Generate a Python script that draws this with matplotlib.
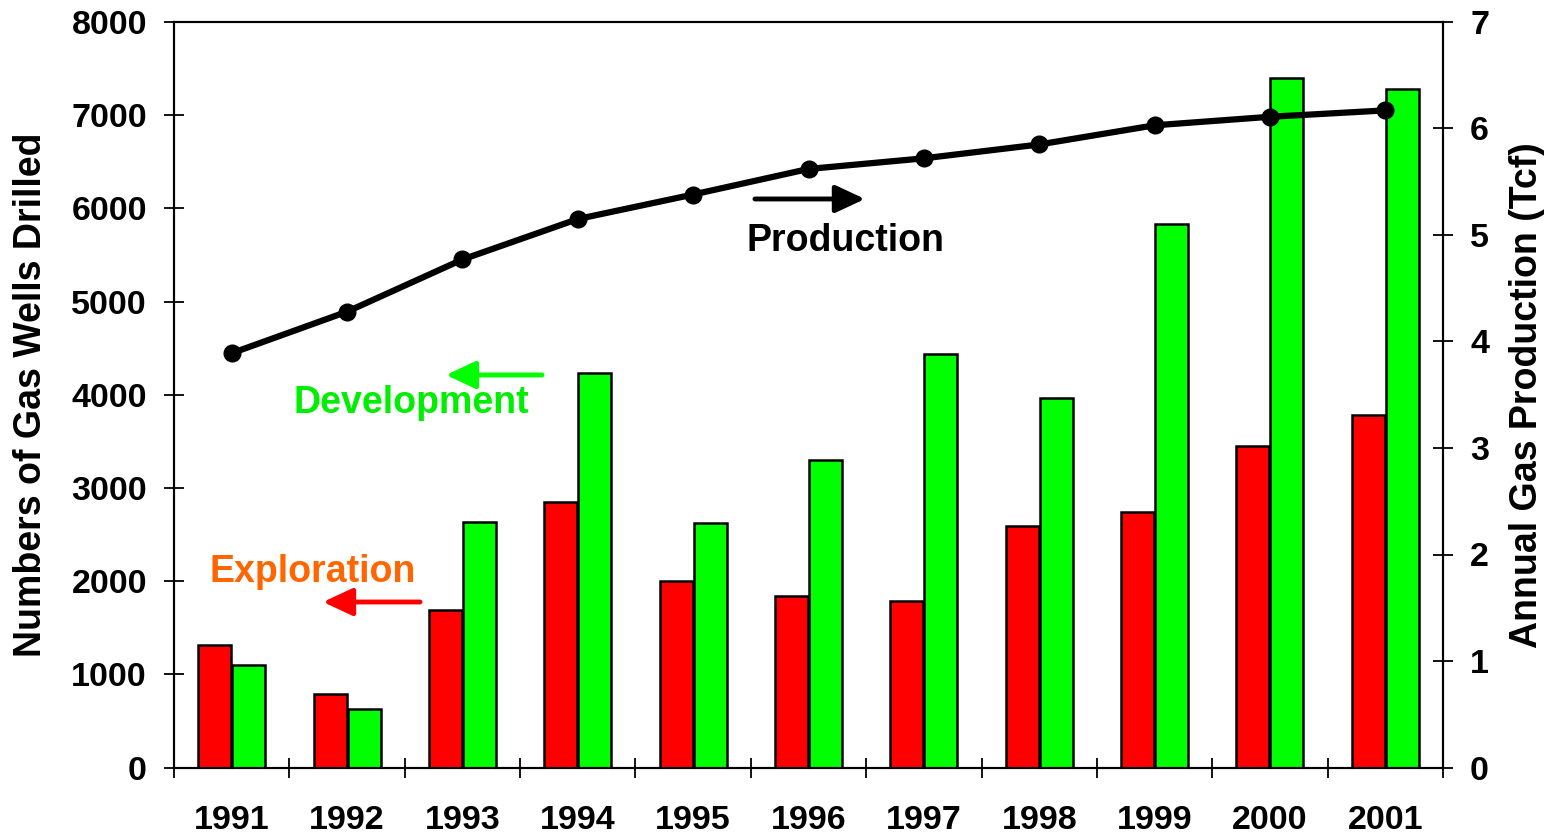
import matplotlib
matplotlib.use("Agg")
import matplotlib.pyplot as plt
import numpy as np

years = ["1991", "1992", "1993", "1994", "1995", "1996", "1997", "1998", "1999", "2000", "2001"]
exploration = [1311, 792, 1690, 2852, 2001, 1844, 1786, 2588, 2741, 3446, 3785]
development = [1100, 624, 2637, 4233, 2627, 3296, 4437, 3961, 5832, 7395, 7280]
production = [3.89, 4.28, 4.77, 5.15, 5.38, 5.62, 5.72, 5.85, 6.03, 6.11, 6.17]

plt.rcParams['font.family'] = ['Liberation Sans', 'DejaVu Sans']
plt.rcParams['font.weight'] = 'bold'

fig = plt.figure(figsize=(15.54, 8.35), dpi=100)
ax = fig.add_axes([174/1554, 1 - 767.5/835, 1269/1554, 745.5/835])
ax2 = ax.twinx()

x = np.arange(len(years))
w = 0.286
off = 0.147
ax.bar(x - off, exploration, width=w, color='#FF0000', edgecolor='black', linewidth=1.8, zorder=2)
ax.bar(x + off, development, width=w, color='#00FF00', edgecolor='black', linewidth=1.8, zorder=2)

ax2.plot(x, production, color='black', lw=4.5, marker='o', markersize=12, zorder=3)

ax.set_xlim(-0.5, len(years) - 0.5)
ax.set_ylim(0, 8000)
ax2.set_ylim(0, 7)
ax.set_yticks(np.arange(0, 8001, 1000))
ax2.set_yticks(np.arange(0, 8, 1))

ax.set_xticks(np.arange(-0.5, len(years), 1.0))
ax.set_xticklabels([])
ax.set_xticks(x, minor=True)
ax.set_xticklabels(years, minor=True)
ax.tick_params(axis='x', which='major', direction='inout', length=15, width=1.3)
ax.tick_params(axis='x', which='minor', length=0, pad=27, labelsize=24.5)
ax.tick_params(axis='y', direction='inout', length=15, width=1.3, pad=12, labelsize=24.5)
ax2.tick_params(axis='y', direction='inout', length=15, width=1.3, pad=12, labelsize=24.5)

for a in (ax, ax2):
    for s in a.spines.values():
        s.set_linewidth(1.5)

ax.set_ylabel("Numbers of Gas Wells Drilled", fontsize=27, fontweight='bold', labelpad=16)
ax2.set_ylabel("Annual Gas Production (Tcf)", fontsize=27, fontweight='bold', labelpad=14)

for lab in ax.get_xticklabels(minor=True) + ax.get_yticklabels() + ax2.get_yticklabels():
    lab.set_fontweight('bold')

# annotations
ax.text(0.1095, 0.2622, "Exploration", transform=ax.transAxes, color='#FF6600',
        fontsize=27, fontweight='bold', ha='center', va='center')
ax.text(0.1868, 0.4889, "Development", transform=ax.transAxes, color='#00EE00',
        fontsize=27, fontweight='bold', ha='center', va='center')
ax.text(0.5288, 0.7062, "Production", transform=ax.transAxes, color='black',
        fontsize=27, fontweight='bold', ha='center', va='center')

arrow_style = "-|>,head_length=0.6,head_width=0.28"
ax.annotate("", xy=(0.1174, 0.2220), xytext=(0.1939, 0.2220), xycoords='axes fraction',
            textcoords='axes fraction',
            arrowprops=dict(arrowstyle=arrow_style, color='#FF0000', lw=3.5, mutation_scale=30,
                            shrinkA=0, shrinkB=0))
ax.annotate("", xy=(0.2143, 0.5265), xytext=(0.2900, 0.5265), xycoords='axes fraction',
            textcoords='axes fraction',
            arrowprops=dict(arrowstyle=arrow_style, color='#00FF00', lw=3.5, mutation_scale=30,
                            shrinkA=0, shrinkB=0))
ax.annotate("", xy=(0.5445, 0.7626), xytext=(0.4578, 0.7626), xycoords='axes fraction',
            textcoords='axes fraction',
            arrowprops=dict(arrowstyle=arrow_style, color='black', lw=3.5, mutation_scale=30,
                            shrinkA=0, shrinkB=0))

fig.savefig("out.png", dpi=100)
